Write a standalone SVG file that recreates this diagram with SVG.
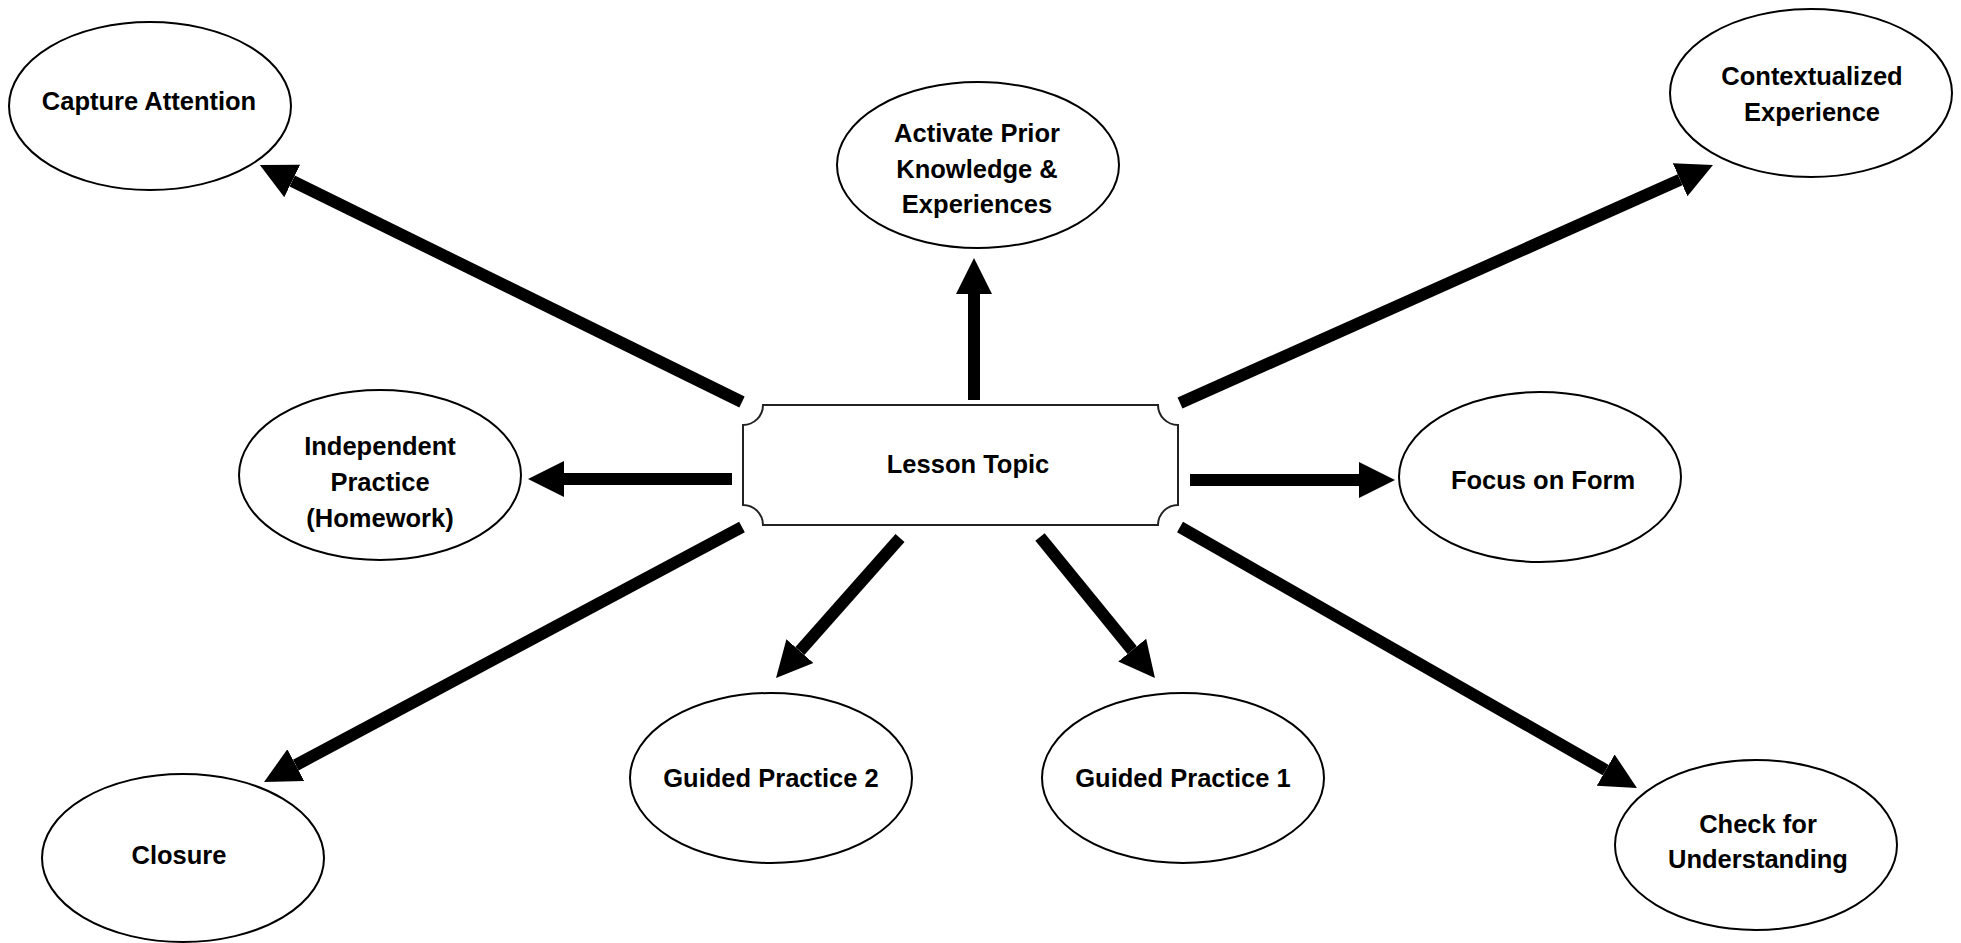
<svg xmlns="http://www.w3.org/2000/svg" width="1961" height="943" viewBox="0 0 1961 943">
<style>
.node ellipse{fill:#fff;stroke:#000;stroke-width:2}
.center path{fill:#fff;stroke:#222;stroke-width:2}
text{font-family:"Liberation Sans",Arial,sans-serif;font-weight:bold;font-size:25.5px;fill:#000;text-anchor:middle}
.conn line{stroke:#000;stroke-width:12;stroke-linecap:butt}
</style>
<defs>
<marker id="ah" markerUnits="userSpaceOnUse" markerWidth="40" markerHeight="40" viewBox="0 -20 40 40" refX="0" refY="0" orient="auto">
<path d="M0,-18 L36,0 L0,18 Z" fill="#000"/>
</marker>
</defs>
<rect width="1961" height="943" fill="#fff"/>
<g id="connectors" class="conn">
<line x1="742" y1="402" x2="292.2" y2="181" marker-end="url(#ah)"/>
<line x1="974" y1="400" x2="974" y2="294" marker-end="url(#ah)"/>
<line x1="1180" y1="403" x2="1680.1" y2="179.7" marker-end="url(#ah)"/>
<line x1="732" y1="479" x2="564" y2="479" marker-end="url(#ah)"/>
<line x1="1190" y1="480" x2="1359" y2="480" marker-end="url(#ah)"/>
<line x1="742" y1="527" x2="295.8" y2="765.1" marker-end="url(#ah)"/>
<line x1="900" y1="538" x2="799.9" y2="651.1" marker-end="url(#ah)"/>
<line x1="1040" y1="537" x2="1132.2" y2="650.1" marker-end="url(#ah)"/>
<line x1="1180" y1="527" x2="1605.7" y2="770.1" marker-end="url(#ah)"/>
</g>
<g id="lesson-topic" class="center">
<path d="M763,405 H1158 A20,20 0 0 0 1178,425 V505 A20,20 0 0 0 1158,525 H763 A20,20 0 0 0 743,505 V425 A20,20 0 0 0 763,405 Z"/>
<text x="968" y="473">Lesson Topic</text>
</g>
<g id="capture-attention" class="node">
<ellipse cx="150" cy="106" rx="141" ry="84"/>
<text x="149" y="110">Capture Attention</text>
</g>
<g id="activate-prior" class="node">
<ellipse cx="978" cy="165" rx="141" ry="83"/>
<text x="977" y="142">Activate Prior</text>
<text x="977" y="178">Knowledge &amp;</text>
<text x="977" y="213">Experiences</text>
</g>
<g id="contextualized-experience" class="node">
<ellipse cx="1811" cy="93" rx="141" ry="84"/>
<text x="1812" y="85">Contextualized</text>
<text x="1812" y="121">Experience</text>
</g>
<g id="independent-practice" class="node">
<ellipse cx="380" cy="475" rx="141" ry="85"/>
<text x="380" y="455">Independent</text>
<text x="380" y="491">Practice</text>
<text x="380" y="527">(Homework)</text>
</g>
<g id="focus-on-form" class="node">
<ellipse cx="1540" cy="477" rx="141" ry="85"/>
<text x="1543" y="489">Focus on Form</text>
</g>
<g id="guided-practice-2" class="node">
<ellipse cx="771" cy="778" rx="141" ry="85"/>
<text x="771" y="787">Guided Practice 2</text>
</g>
<g id="guided-practice-1" class="node">
<ellipse cx="1183" cy="778" rx="141" ry="85"/>
<text x="1183" y="787">Guided Practice 1</text>
</g>
<g id="closure" class="node">
<ellipse cx="183" cy="858" rx="141" ry="84"/>
<text x="179" y="864">Closure</text>
</g>
<g id="check-for-understanding" class="node">
<ellipse cx="1756" cy="845" rx="141" ry="85"/>
<text x="1758" y="833">Check for</text>
<text x="1758" y="868">Understanding</text>
</g>
</svg>
